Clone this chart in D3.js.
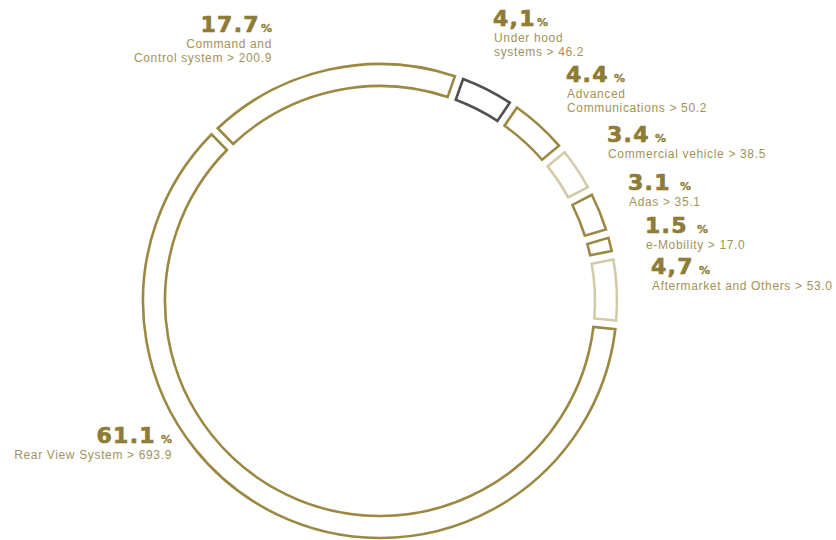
<!DOCTYPE html>
<html>
<head>
<meta charset="utf-8">
<script src="https://cdn.jsdelivr.net/npm/d3@7"></script>
<style>
  body { margin: 0; background: #fff; }
  svg { display: block; }
</style>
</head>
<body>
<div id="chart"></div>
<script>
// segments, clockwise from the 3 o'clock position
var segments = ["Rear View System", "Command and Control system", "Under hood systems",
  "Advanced Communications", "Commercial vehicle", "Adas", "e-Mobility", "Aftermarket and Others"];
var shares = [61.1, 17.7, 4.1, 4.4, 3.4, 3.1, 1.5, 4.7];
var amounts = ["693.9", "200.9", "46.2", "50.2", "38.5", "35.1", "17.0", "53.0"];
var shareLabels = ["61.1", "17.7", "4,1", "4.4", "3.4", "3.1", "1.5", "4,7"];
var nameLines = [
  ["Rear View System > 693.9"],
  ["Command and", "Control system > 200.9"],
  ["Under hood", "systems > 46.2"],
  ["Advanced", "Communications > 50.2"],
  ["Commercial vehicle > 38.5"],
  ["Adas > 35.1"],
  ["e-Mobility > 17.0"],
  ["Aftermarket and Others > 53.0"]
];

var width = 836, height = 540;
var cx = 380, cy = 301;
var outerR = 237, innerR = 215;

var gold = "#9b8843", light = "#d2caa8", grey = "#4f5052";
var strokeCol = [gold, gold, grey, gold, light, gold, gold, light];

// label layout: x, baseline of big number, anchor, gap before %
var labelPos = [
  {x: 172, y: 443, anchor: "end", gap: 5},
  {x: 272, y: 32, anchor: "end", gap: 1},
  {x: 493, y: 26, anchor: "start", gap: 1},
  {x: 566, y: 82, anchor: "start", gap: 5},
  {x: 607, y: 142, anchor: "start", gap: 5},
  {x: 628, y: 190, anchor: "start", gap: 9},
  {x: 645, y: 233, anchor: "start", gap: 9},
  {x: 651, y: 274, anchor: "start", gap: 5}
];

var svg = d3.select("#chart").append("svg")
  .attr("width", width)
  .attr("height", height);

var start = 95.8 * Math.PI / 180;
// no pad in the pie itself so the slices stay proportional to 360 deg
var pie = d3.pie()
  .sort(null)
  .value(function(d) { return d; })
  .startAngle(start)
  .endAngle(start + 2 * Math.PI);

var arc = d3.arc()
  .innerRadius(innerR)
  .outerRadius(outerR)
  .padAngle(0.027);

var ring = svg.append("g")
  .attr("transform", "translate(" + cx + "," + cy + ")");

ring.selectAll("path")
  .data(pie(shares))
  .enter()
  .append("path")
  .attr("d", arc)
  .attr("fill", "#fff")
  .attr("stroke", function(d, i) { return strokeCol[i]; })
  .attr("stroke-width", 2.6)
  .attr("stroke-linejoin", "miter");

var labels = svg.selectAll(".lbl")
  .data(segments)
  .enter()
  .append("g")
  .attr("class", "lbl");

labels.each(function(d, i) {
  var g = d3.select(this);
  var p = labelPos[i];
  var big = g.append("text")
    .attr("x", p.x)
    .attr("y", p.y)
    .attr("text-anchor", p.anchor)
    .attr("fill", "#8e7b35")
    .attr("stroke", "#8e7b35")
    .attr("stroke-width", 0.7)
    .attr("font-family", "DejaVu Sans, sans-serif")
    .attr("font-weight", "bold");
  big.append("tspan")
    .attr("font-size", 22)
    .attr("letter-spacing", 1.3)
    .text(shareLabels[i]);
  big.append("tspan")
    .attr("dx", p.gap)
    .attr("font-size", 11)
    .attr("stroke-width", 0.3)
    .text("%");

  nameLines[i].forEach(function(line, j) {
    g.append("text")
      .attr("x", p.anchor === "end" ? p.x : p.x + 1)
      .attr("y", p.y + 16 + j * 14)
      .attr("text-anchor", p.anchor)
      .attr("fill", "#a39259")
      .attr("font-family", "Liberation Sans, Arial, sans-serif")
      .attr("font-size", 12)
      .attr("letter-spacing", 0.65)
      .text(line);
  });
});
</script>
</body>
</html>
